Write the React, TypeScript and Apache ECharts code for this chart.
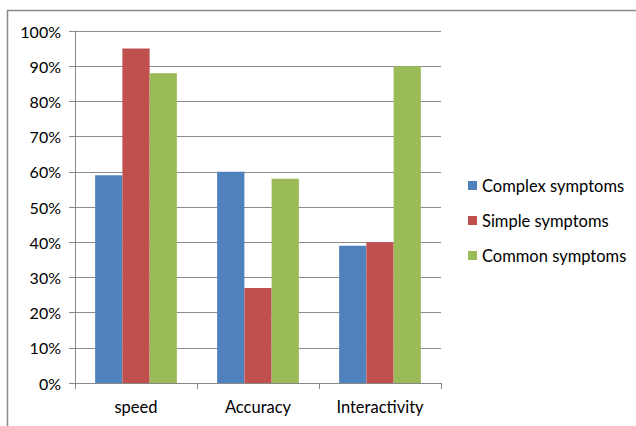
import React, { useEffect, useRef } from "react";
import * as echarts from "echarts";

const categories = ["speed", "Accuracy", "Interactivity"];
const seriesNames = ["Complex symptoms", "Simple symptoms", "Common symptoms"];
const complexValues = [59, 60, 39];
const simpleValues = [95, 27, 40];
const commonValues = [88, 58, 90];
const colors = ["#4F81BD", "#C0504D", "#9BBB59"];

export default function App() {
  const ref = useRef<HTMLDivElement>(null);
  useEffect(() => {
    if (!ref.current) return;
    const chart = echarts.init(ref.current, null, { renderer: "svg" });
    const font = "Lato, 'Open Sans', sans-serif";
    const data = [complexValues, simpleValues, commonValues];
    chart.setOption({
      animation: false,
      backgroundColor: "#ffffff",
      textStyle: { fontFamily: font },
      graphic: [
        { type: "line", shape: { x1: 7.5, y1: 10.5, x2: 7.5, y2: 430 }, style: { stroke: "#8a8a8a", lineWidth: 1.5 } },
        { type: "line", shape: { x1: 7, y1: 10.5, x2: 640, y2: 10.5 }, style: { stroke: "#8a8a8a", lineWidth: 1.5 } },
      ],
      grid: { left: 75, right: 195, top: 31, bottom: 43, containLabel: false },
      legend: {
        orient: "vertical",
        left: 463,
        top: 172,
        itemWidth: 9,
        itemHeight: 9,
        itemGap: 18,
        icon: "rect",
        textStyle: { fontFamily: font, fontSize: 16.5, color: "#000" },
        data: seriesNames,
      },
      xAxis: {
        type: "category",
        data: categories,
        axisLine: { lineStyle: { color: "#888", width: 1 } },
        axisTick: { show: true, length: 6, lineStyle: { color: "#888" } },
        axisLabel: { color: "#000", fontSize: 16.5, fontFamily: font, margin: 15 },
      },
      yAxis: {
        type: "value",
        min: 0,
        max: 100,
        interval: 10,
        axisLine: { show: true, lineStyle: { color: "#888", width: 1 } },
        axisTick: { show: true, length: 6, lineStyle: { color: "#888" } },
        splitLine: { show: true, lineStyle: { color: "#8c8c8c", width: 1 } },
        axisLabel: { color: "#000", fontSize: 16, fontFamily: font, margin: 14, formatter: "{value}%" },
      },
      series: seriesNames.map((name, i) => ({
        name,
        type: "bar",
        data: data[i],
        barGap: "0%",
        barCategoryGap: "33%",
        itemStyle: { color: colors[i] },
      })),
    });
    return () => chart.dispose();
  }, []);
  return (
    <div
      ref={ref}
      style={{ position: "fixed", left: 0, top: 0, width: 636, height: 426 }}
    />
  );
}
